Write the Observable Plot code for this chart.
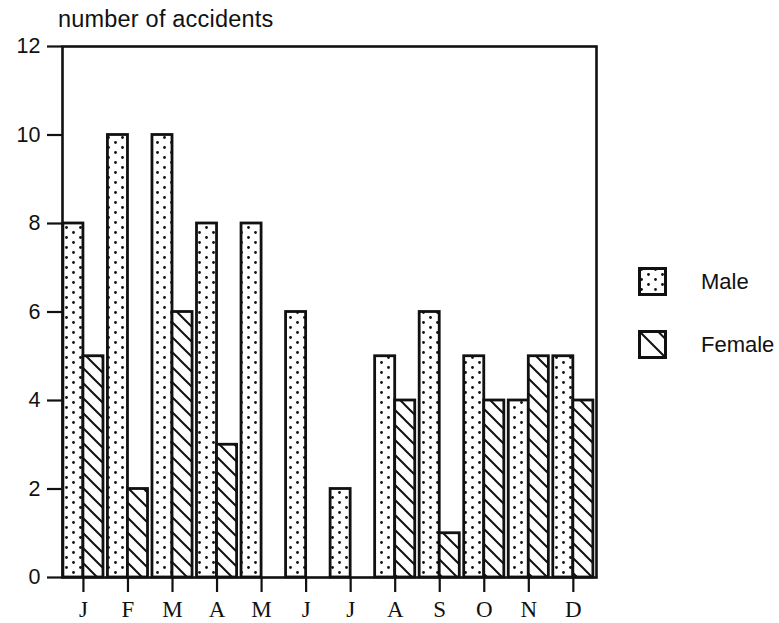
<!DOCTYPE html>
<html><head><meta charset="utf-8">
<script src="https://cdn.jsdelivr.net/npm/d3@7"></script>
<script src="https://cdn.jsdelivr.net/npm/@observablehq/plot@0.6"></script>
<style>
body{margin:0;background:#fff;font-family:"Liberation Sans",Arial,sans-serif;color:#111;}
#wrap{position:relative;width:779px;height:623px;overflow:hidden;}
#title{height:30px;box-sizing:border-box;padding-left:58px;padding-top:7px;font-size:23.5px;line-height:25px;letter-spacing:0.2px;}
.lg{position:absolute;left:638px;display:flex;align-items:center;font-size:22px;}
.lg svg{display:block;}
.lg span{margin-left:34px;}
</style></head><body>
<svg width="0" height="0" style="position:absolute">
<defs>
<pattern id="dots" width="14" height="10" patternUnits="userSpaceOnUse">
<rect width="14" height="10" fill="#fff"/>
<circle cx="3.5" cy="2.5" r="1.4" fill="#111"/>
<circle cx="10.5" cy="7.5" r="1.4" fill="#111"/>
</pattern>
<pattern id="hatch" width="15" height="15" patternUnits="userSpaceOnUse">
<rect width="15" height="15" fill="#fff"/>
<path d="M0,0L15,15M-4,11L4,19M11,-4L19,4" stroke="#111" stroke-width="2"/>
</pattern>
</defs></svg>
<div id="wrap">
<div id="title">number of accidents</div>
<div id="chart"></div>
<div class="lg" style="top:267px"><svg width="29" height="29"><rect x="1.5" y="1.5" width="26" height="26" fill="url(#dots)" stroke="#111" stroke-width="3"/></svg><span>Male</span></div>
<div class="lg" style="top:330px"><svg width="29" height="29"><rect x="1.5" y="1.5" width="26" height="26" fill="#fff" stroke="#111" stroke-width="3"/><path d="M1.5,1.5L27.5,27.5M20,1.5L27.5,9" stroke="#111" stroke-width="2"/></svg><span>Female</span></div>
</div>
<script>
const months = ["J","F","M","A","M","J","J","A","S","O","N","D"];
const maleValues = [8, 10, 10, 8, 8, 6, 2, 5, 6, 5, 4, 5];
const femaleValues = [5, 2, 6, 3, 0, 0, 0, 4, 1, 4, 5, 4];
const yTicks = [0, 2, 4, 6, 8, 10, 12];
const half = 0.45;

const male = months.map((m, i) => ({i, v: maleValues[i]})).filter(d => d.v > 0);
const female = months.map((m, i) => ({i, v: femaleValues[i]})).filter(d => d.v > 0);

const chart = Plot.plot({
  width: 779,
  height: 593,
  marginTop: 16,
  marginBottom: 46,
  marginLeft: 62,
  marginRight: 183,
  style: {background: "#fff", color: "#111", fontFamily: "Liberation Sans, Arial, sans-serif"},
  x: {domain: [-0.47, 11.52]},
  y: {domain: [0, 12]},
  marks: [
    Plot.rect(male, {x1: d => d.i - half, x2: d => d.i, y1: 0, y2: "v", fill: "url(#dots)", stroke: "#111", strokeWidth: 2.8}),
    Plot.rect(female, {x1: d => d.i, x2: d => d.i + half, y1: 0, y2: "v", fill: "url(#hatch)", stroke: "#111", strokeWidth: 2.8}),
    Plot.frame({stroke: "#111", strokeWidth: 2.6}),
    Plot.axisY({ticks: yTicks, tickSize: 15, tickPadding: 7, fontSize: 21.5, strokeWidth: 2.2, label: null}),
    Plot.axisX({ticks: d3.range(months.length), tickFormat: i => months[i], tickSize: 15, tickPadding: 8, fontSize: 23, fontFamily: "Liberation Serif, Times New Roman, serif", strokeWidth: 2.2, label: null})
  ]
});
document.getElementById("chart").appendChild(chart);
</script>
</body></html>
